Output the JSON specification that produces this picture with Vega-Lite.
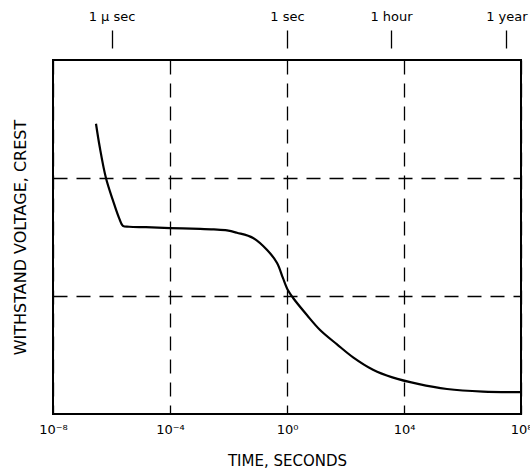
{
  "$schema": "https://vega.github.io/schema/vega-lite/v6.json",
  "width": 468,
  "height": 354,
  "autosize": {"type": "none"},
  "padding": {"left": 53, "top": 60, "right": 9, "bottom": 58},
  "background": "white",
  "config": {
    "view": {"stroke": "black", "strokeWidth": 2},
    "font": "DejaVu Sans",
    "axis": {"labelFont": "DejaVu Sans", "titleFont": "DejaVu Sans", "labelColor": "black", "titleColor": "black", "titleFontWeight": "normal"}
  },
  "layer": [
    {
      "data": {"values": [
        {"t": 2.95e-7, "v": 2.46},
        {"t": 3.98e-7, "v": 2.26},
        {"t": 6.46e-7, "v": 2.0},
        {"t": 1.12e-6, "v": 1.81},
        {"t": 1.82e-6, "v": 1.66},
        {"t": 2.45e-6, "v": 1.595},
        {"t": 4.0e-6, "v": 1.587},
        {"t": 1.5e-5, "v": 1.583},
        {"t": 1e-4, "v": 1.576},
        {"t": 1.07e-3, "v": 1.569},
        {"t": 3.16e-3, "v": 1.564},
        {"t": 8.91e-3, "v": 1.556},
        {"t": 1.95e-2, "v": 1.536},
        {"t": 6.92e-2, "v": 1.492},
        {"t": 0.209, "v": 1.39},
        {"t": 0.457, "v": 1.28},
        {"t": 0.724, "v": 1.153},
        {"t": 1.07, "v": 1.05},
        {"t": 1.62, "v": 0.983},
        {"t": 4.79, "v": 0.839},
        {"t": 13.5, "v": 0.712},
        {"t": 51.3, "v": 0.59},
        {"t": 182, "v": 0.48},
        {"t": 871, "v": 0.375},
        {"t": 4000, "v": 0.31},
        {"t": 30000, "v": 0.255},
        {"t": 295000, "v": 0.212},
        {"t": 5.01e6, "v": 0.19},
        {"t": 9.33e7, "v": 0.186}
      ]},
      "mark": {"type": "line", "color": "black", "strokeWidth": 2.2, "interpolate": "catmull-rom"},
      "encoding": {
        "x": {
          "field": "t", "type": "quantitative",
          "scale": {"type": "log", "domain": [1e-8, 1e8], "nice": false},
          "axis": {
            "orient": "bottom",
            "values": [1e-8, 1e-4, 1, 10000, 1e8],
            "labelExpr": "datum.value < 1e-6 ? '10⁻⁸' : datum.value < 1e-2 ? '10⁻⁴' : datum.value < 10 ? '10⁰' : datum.value < 1e6 ? '10⁴' : '10⁸'",
            "grid": true, "gridColor": "black", "gridDash": [14, 9], "gridWidth": 1.3, "gridOpacity": 1,
            "ticks": false, "domain": false,
            "labelFontSize": 13, "labelPadding": 9, "labelFlush": false,
            "title": "TIME, SECONDS", "titleFontSize": 15, "titlePadding": 17
          }
        },
        "y": {
          "field": "v", "type": "quantitative",
          "scale": {"domain": [0, 3], "nice": false},
          "axis": {
            "values": [1, 2],
            "grid": true, "gridColor": "black", "gridDash": [14, 9], "gridWidth": 1.3, "gridOpacity": 1,
            "ticks": false, "labels": false, "domain": false,
            "title": "WITHSTAND VOLTAGE, CREST", "titleFontSize": 16, "titlePadding": 25
          }
        }
      }
    },
    {
      "data": {"values": [
        {"t": 1e-6, "name": "1 μ sec"},
        {"t": 1, "name": "1 sec"},
        {"t": 3600, "name": "1 hour"},
        {"t": 3.156e7, "name": "1 year"}
      ]},
      "mark": {"type": "point", "opacity": 0},
      "encoding": {
        "x": {
          "field": "t", "type": "quantitative",
          "axis": {
            "orient": "top",
            "values": [1e-6, 1, 3600, 3.156e7],
            "labelExpr": "datum.value < 1e-3 ? '1 μ sec' : datum.value < 10 ? '1 sec' : datum.value < 1e5 ? '1 hour' : '1 year'",
            "grid": false, "domain": false,
            "ticks": true, "tickSize": 18, "tickColor": "black", "tickWidth": 1.3, "offset": 12,
            "labelFontSize": 13, "labelPadding": 7, "labelFlush": false,
            "title": null
          }
        }
      }
    }
  ],
  "resolve": {"axis": {"x": "independent"}}
}
